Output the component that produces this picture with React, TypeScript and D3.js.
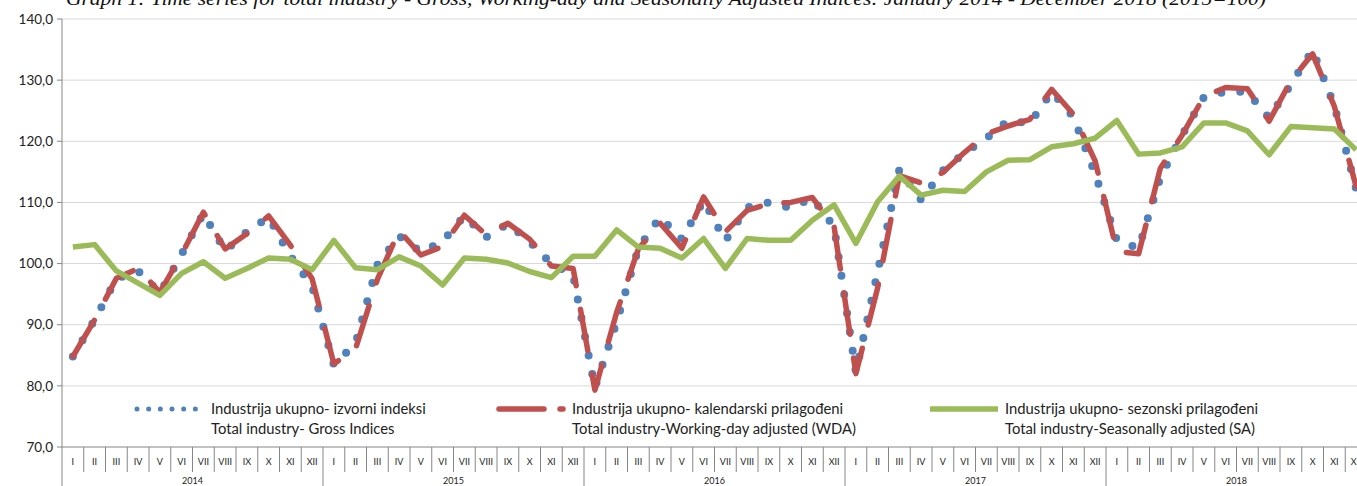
import React from 'react';
import * as d3 from 'd3';

const months = ['I', 'II', 'III', 'IV', 'V', 'VI', 'VII', 'VIII', 'IX', 'X', 'XI', 'XII'];
const years = ['2014', '2015', '2016', '2017', '2018'];

// Total industry - gross indices
const gross = [
  84.8, 90.8, 97.5, 98.8, 95.2, 101.5, 108.2, 102.1, 105.2, 107.6, 101.2, 96.3,
  83.4, 87.0, 99.8, 104.5, 101.9, 103.6, 107.8, 104.3, 106.5, 103.6, 100.0, 98.1,
  79.7, 90.4, 102.5, 107.6, 104.0, 110.3, 103.7, 109.2, 110.0, 109.1, 110.7, 106.0,
  82.2, 98.6, 115.4, 110.4, 115.2, 118.1, 120.5, 123.4, 122.9, 128.1, 124.0, 114.7,
  103.8, 102.5, 114.1, 121.0, 127.2, 128.1, 128.1, 123.8, 129.3, 134.9, 125.8, 112.2,
];

// Total industry - working-day adjusted
const wda = [
  84.8, 90.8, 97.6, 99.2, 95.3, 101.5, 108.4, 102.4, 104.9, 107.8, 103.0, 97.5,
  83.6, 86.1, 97.4, 105.4, 101.4, 102.8, 107.9, 104.7, 106.6, 104.0, 99.6, 99.2,
  79.3, 92.0, 102.4, 106.6, 102.5, 110.9, 105.2, 108.7, 109.8, 110.0, 110.8, 106.0,
  82.0, 96.0, 114.4, 113.2, 114.9, 118.2, 121.2, 122.5, 123.6, 128.5, 124.4, 116.8,
  102.0, 101.6, 115.6, 121.0, 127.3, 128.8, 128.6, 123.3, 129.9, 134.3, 125.7, 112.6,
];

// Total industry - seasonally adjusted
const sa = [
  102.7, 103.1, 98.8, 96.8, 94.8, 98.4, 100.3, 97.6, 99.2, 100.9, 100.7, 99.0,
  103.8, 99.3, 99.0, 101.1, 99.6, 96.5, 100.9, 100.7, 100.1, 98.7, 97.7, 101.2,
  101.2, 105.5, 102.7, 102.5, 100.9, 104.1, 99.2, 104.1, 103.8, 103.8, 107.1, 109.6,
  103.3, 110.1, 114.3, 111.2, 112.0, 111.8, 115.0, 116.9, 117.0, 119.1, 119.6, 120.5,
  123.4, 117.9, 118.1, 119.1, 123.0, 123.0, 121.7, 117.8, 122.4, 122.2, 122.0, 118.6,
];

const yTicks = [70, 80, 90, 100, 110, 120, 130, 140];

const width = 1357;
const height = 486;
const font = 'Lato, "Open Sans", sans-serif';

export default function App() {
  const idx = d3.range(gross.length);
  const x = d3.scaleBand<number>().domain(idx).range([62, 62 + 60 * 21.75]);
  const y = d3.scaleLinear().domain([70, 140]).range([447, 19]);
  const cx = (i: number) => (x(i) as number) + x.bandwidth() / 2;

  const line = d3.line<number>()
    .x((d, i) => cx(i))
    .y(d => y(d));

  const bottom = y(70);

  return (
    <svg width={width} height={height} style={{ position: 'absolute', left: 0, top: 0, background: '#fff' }}>
      <text x={66} y={5} fontFamily='"Liberation Serif", serif' fontStyle="italic" fontSize={19}
        textLength={1200} lengthAdjust="spacingAndGlyphs" fill="#111">
        Graph 1: Time series for total industry - Gross, Working-day and Seasonally Adjusted Indices: January 2014 - December 2018 (2015=100)
      </text>

      {/* gridlines */}
      {yTicks.filter(t => t > 70).map(t => (
        <line key={'g' + t} x1={62} x2={width} y1={y(t)} y2={y(t)} stroke="#d9d9d9" strokeWidth={1} />
      ))}

      {/* y axis */}
      <line x1={62} x2={62} y1={y(140)} y2={height} stroke="#868686" strokeWidth={1} />
      {yTicks.map(t => (
        <g key={'t' + t}>
          <line x1={57} x2={62} y1={y(t)} y2={y(t)} stroke="#868686" />
          <text x={53} y={y(t)} dy="0.35em" textAnchor="end" fontFamily={font} fontSize={13.5} fill="#222">
            {t.toFixed(1).replace('.', ',')}
          </text>
        </g>
      ))}

      {/* category axis */}
      <line x1={62} x2={width} y1={bottom} y2={bottom} stroke="#868686" />
      {idx.map(i => {
        const x0 = x(i) as number;
        return (
          <g key={'m' + i}>
            {i % 12 !== 0 && <line x1={x0} x2={x0} y1={bottom} y2={472} stroke="#868686" />}
            <text x={cx(i)} y={462} dy="0.35em" textAnchor="middle" fontFamily={font} fontSize={9} fill="#222">
              {months[i % 12]}
            </text>
          </g>
        );
      })}
      {years.map((yr, k) => {
        const x0 = x(k * 12) as number;
        const x1 = x0 + 12 * x.bandwidth();
        return (
          <g key={yr}>
            <line x1={x1} x2={x1} y1={bottom} y2={height} stroke="#868686" />
            <text x={(x0 + x1) / 2} y={481} dy="0.35em" textAnchor="middle" fontFamily={font} fontSize={9} fill="#222">
              {yr}
            </text>
          </g>
        );
      })}

      {/* series */}
      <path d={line(gross) || ''} fill="none" stroke="#4f81bd" strokeWidth={8}
        strokeDasharray="0 19" strokeLinecap="round" strokeLinejoin="round" />
      <path d={line(wda) || ''} fill="none" stroke="#c0504d" strokeWidth={5.5}
        strokeDasharray="42 24" strokeLinecap="round" strokeLinejoin="round" />
      <path d={line(sa) || ''} fill="none" stroke="#9bbb59" strokeWidth={5.5} strokeLinejoin="round" />

      {/* legend */}
      <g fontFamily={font} fontSize={14.8} fill="#222">
        <line x1={137} x2={207} y1={409} y2={409} stroke="#4f81bd" strokeWidth={5}
          strokeDasharray="0 11.67" strokeLinecap="round" />
        <text x={211} y={409} dy="0.35em">Industrija ukupno- izvorni indeksi</text>
        <text x={211} y={429} dy="0.35em">Total industry- Gross Indices</text>

        <line x1={499} x2={563} y1={409} y2={409} stroke="#c0504d" strokeWidth={5.5}
          strokeDasharray="45 16" strokeLinecap="round" />
        <text x={572} y={409} dy="0.35em">Industrija ukupno- kalendarski prilagođeni</text>
        <text x={572} y={429} dy="0.35em">Total industry-Working-day adjusted (WDA)</text>

        <line x1={930} x2={998} y1={409} y2={409} stroke="#9bbb59" strokeWidth={5.5} />
        <text x={1005} y={409} dy="0.35em">Industrija ukupno- sezonski prilagođeni</text>
        <text x={1005} y={429} dy="0.35em">Total industry-Seasonally adjusted (SA)</text>
      </g>
    </svg>
  );
}
